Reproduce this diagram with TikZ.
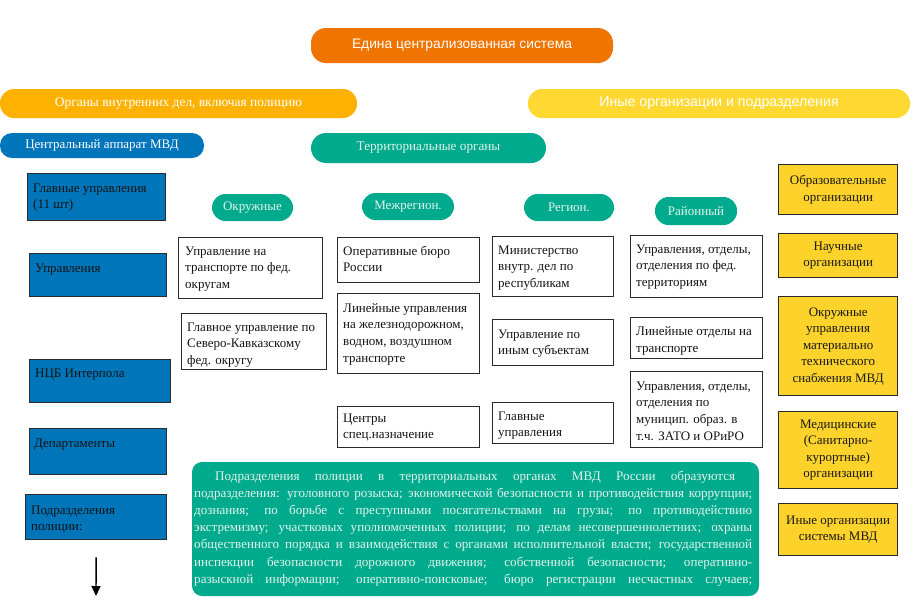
\documentclass[tikz,border=0pt]{standalone}
\usepackage{fontspec}
\setmainfont{Liberation Serif}
\newfontfamily\sansf{Liberation Sans}
\usetikzlibrary{arrows.meta}
\definecolor{corange}{HTML}{F07400}
\definecolor{camber}{HTML}{FFB100}
\definecolor{cyell}{HTML}{FFD932}
\definecolor{cgold}{HTML}{FDD22B}
\definecolor{cblue}{HTML}{0075BA}
\definecolor{cgreen}{HTML}{00AA8D}
\definecolor{clight}{HTML}{E2F4EE}
\definecolor{cborder}{HTML}{2A2A2A}
\begin{document}
\begin{tikzpicture}[x=1pt,y=-1pt,
  pill/.style={inner sep=0pt, outer sep=0pt},
  wbox/.style={draw=cborder, line width=1.3pt, fill=white, anchor=north west, inner sep=0pt},
  bbox/.style={draw=cborder, line width=1.3pt, fill=cblue, anchor=north west, inner sep=0pt},
  ybox/.style={draw=cborder, line width=1.3pt, fill=cgold, anchor=north west, inner sep=0pt,
     align=center, font=\fontsize{13}{16.5}\selectfont, text=black!90},
  btxt/.style={inner sep=0pt, anchor=base west, text=black!92, font=\fontsize{13}{16.7}\selectfont},
  gpill/.style={pill, fill=cgreen, rounded corners=13.5pt, text=clight, font=\fontsize{13}{15}\selectfont}
]
\useasboundingbox (0,0) rectangle (913,611);

% top level pills
\node[pill, fill=corange, rounded corners=15pt, minimum width=302pt, minimum height=35pt,
  text=white, font=\sansf\fontsize{13.8}{15}\selectfont] (top) at (462,45.5) {Едина централизованная система};
\node[pill, fill=camber, rounded corners=14pt, minimum width=357pt, minimum height=29pt,
  text=white, font=\fontsize{13.4}{15}\selectfont] (ovd) at (178.5,103.5) {Органы внутренних дел, включая полицию};
\node[pill, fill=cyell, rounded corners=14pt, minimum width=382pt, minimum height=29pt,
  text=white, font=\sansf\fontsize{14.2}{16}\selectfont] (inye) at (719,103.5) {Иные организации и подразделения};
\node[pill, fill=cblue, rounded corners=12pt, minimum width=204pt, minimum height=25pt,
  text=white, font=\fontsize{13}{15}\selectfont] (cam) at (102,145.5) {Центральный аппарат МВД};
\node[pill, fill=cgreen, rounded corners=15pt, minimum width=235pt, minimum height=30pt,
  text=clight, font=\fontsize{13.2}{15}\selectfont] (terr) at (428.5,148) {Территориальные органы};

% level pills
\node[gpill, minimum width=81pt, minimum height=27pt] (okr) at (252.5,207.5) {Окружные};
\node[gpill, minimum width=92pt, minimum height=27pt] (mreg) at (408,206.5) {Межрегион.};
\node[gpill, minimum width=90pt, minimum height=27pt] (reg) at (569,207.5) {Регион.};
\node[gpill, minimum width=82pt, minimum height=28pt] (ray) at (696,211) {Районный};

% blue boxes (central apparatus)
\node[bbox, minimum width=138pt, minimum height=47pt] (gu) at (27,173) {};
\node[btxt] (gut) at ([xshift=6pt,yshift=-19pt]gu.north west) {\parbox[t]{140pt}{Главные управления\\(11 шт)}};
\node[bbox, minimum width=137pt, minimum height=43pt] (upr) at (29,253) {};
\node[btxt] (uprt) at ([xshift=6pt,yshift=-19pt]upr.north west) {\parbox[t]{140pt}{Управления}};
\node[bbox, minimum width=141pt, minimum height=43pt] (ncb) at (29,359) {};
\node[btxt] (ncbt) at ([xshift=6pt,yshift=-18pt]ncb.north west) {\parbox[t]{140pt}{НЦБ Интерпола}};
\node[bbox, minimum width=137pt, minimum height=46pt] (dep) at (29,428) {};
\node[btxt] (dept) at ([xshift=5pt,yshift=-19pt]dep.north west) {\parbox[t]{140pt}{Департаменты}};
\node[bbox, minimum width=141pt, minimum height=45pt] (pp) at (25,494) {};
\node[btxt] (ppt) at ([xshift=6pt,yshift=-20pt]pp.north west) {\parbox[t]{140pt}{Подразделения\\полиции:}};
\coordinate (arrEnd) at (96,596);
\draw[line width=1.4pt, -{Triangle[length=10pt,width=9pt]}] ([yshift=-17pt]pp.south) -- (arrEnd);

% Okruzhnye column
\node[wbox, minimum width=144pt, minimum height=61pt] (o1) at (178,237) {};
\node[btxt] (o1t) at ([xshift=7pt,yshift=-18pt]o1.north west) {\parbox[t]{140pt}{Управление на\\транспорте по фед.\\округам}};
\node[wbox, minimum width=145pt, minimum height=56pt] (o2) at (181,313) {};
\node[btxt] (o2t) at ([xshift=6pt,yshift=-18pt]o2.north west) {\parbox[t]{140pt}{Главное управление по\\Северо-Кавказскому\\фед. округу}};

% Mezhregion column
\node[wbox, minimum width=142pt, minimum height=45pt] (m1) at (337,237) {};
\node[btxt] (m1t) at ([xshift=6pt,yshift=-18pt]m1.north west) {\parbox[t]{140pt}{Оперативные бюро\\России}};
\node[wbox, minimum width=142pt, minimum height=80pt] (m2) at (337,293) {};
\node[btxt] (m2t) at ([xshift=6pt,yshift=-19pt]m2.north west) {\parbox[t]{140pt}{Линейные управления\\на железнодорожном,\\водном, воздушном\\транспорте}};
\node[wbox, minimum width=142pt, minimum height=41pt] (m3) at (337,406) {};
\node[btxt] (m3t) at ([xshift=6pt,yshift=-16pt]m3.north west) {\parbox[t]{140pt}{Центры\\спец.назначение}};

% Region column
\node[wbox, minimum width=121pt, minimum height=60pt] (r1) at (492,236) {};
\node[btxt] (r1t) at ([xshift=6pt,yshift=-18pt]r1.north west) {\parbox[t]{120pt}{Министерство\\внутр. дел по\\республикам}};
\node[wbox, minimum width=121pt, minimum height=46pt] (r2) at (492,319) {};
\node[btxt] (r2t) at ([xshift=6pt,yshift=-19pt]r2.north west) {\parbox[t]{120pt}{Управление по\\иным субъектам}};
\node[wbox, minimum width=121pt, minimum height=41pt] (r3) at (492,402) {};
\node[btxt] (r3t) at ([xshift=6pt,yshift=-18pt]r3.north west) {\parbox[t]{120pt}{Главные\\управления}};

% Rayon column
\node[wbox, minimum width=132pt, minimum height=62pt] (d1) at (630,235) {};
\node[btxt] (d1t) at ([xshift=6pt,yshift=-18pt]d1.north west) {\parbox[t]{130pt}{Управления, отделы,\\отделения по фед.\\территориям}};
\node[wbox, minimum width=132pt, minimum height=41pt] (d2) at (630,317) {};
\node[btxt] (d2t) at ([xshift=6pt,yshift=-18.5pt]d2.north west) {\parbox[t]{130pt}{Линейные отделы на\\транспорте}};
\node[wbox, minimum width=132pt, minimum height=76pt] (d3) at (630,371) {};
\node[btxt] (d3t) at ([xshift=6pt,yshift=-19pt]d3.north west) {\parbox[t]{130pt}{Управления, отделы,\\отделения по\\муницип. образ. в\\т.ч. ЗАТО и ОРиРО}};

% yellow boxes
\node[ybox, minimum width=119pt, minimum height=50pt] (y1) at (778,164) {Образовательные\\организации};
\node[ybox, minimum width=119pt, minimum height=44pt] (y2) at (778,233) {Научные\\организации};
\node[ybox, minimum width=119pt, minimum height=99pt] (y3) at (778,296) {Окружные\\управления\\материально\\технического\\снабжения МВД};
\node[ybox, minimum width=119pt, minimum height=77pt] (y4) at (778,411) {Медицинские\\(Санитарно-\\курортные)\\организации};
\node[ybox, minimum width=119pt, minimum height=52pt] (y5) at (778,503) {Иные организации\\системы МВД};

% big green box
\node[pill, fill=cgreen, rounded corners=10pt, anchor=north west, minimum width=567pt, minimum height=134pt] (gbig) at (192,462) {};
\node[inner sep=0pt, anchor=base west, text=clight, font=\fontsize{13.1}{17.2}\selectfont] (gtext) at ([xshift=2pt,yshift=-18pt]gbig.north west) {\parbox[t]{560pt}{%
\hspace*{21pt}\makebox[520pt][s]{Подразделения полиции в территориальных органах МВД России образуются}\\
\makebox[558pt][s]{подразделения: уголовного розыска; экономической безопасности и противодействия коррупции;}\\
\makebox[558pt][s]{дознания; по борьбе с преступными посягательствами на грузы; по противодействию}\\
\makebox[558pt][s]{экстремизму; участковых уполномоченных полиции; по делам несовершеннолетних; охраны}\\
\makebox[558pt][s]{общественного порядка и взаимодействия с органами исполнительной власти; государственной}\\
\makebox[558pt][s]{инспекции безопасности дорожного движения; собственной безопасности; оперативно-}\\
\makebox[558pt][s]{разыскной информации; оперативно-поисковые; бюро регистрации несчастных случаев;}}};
\end{tikzpicture}
\end{document}
